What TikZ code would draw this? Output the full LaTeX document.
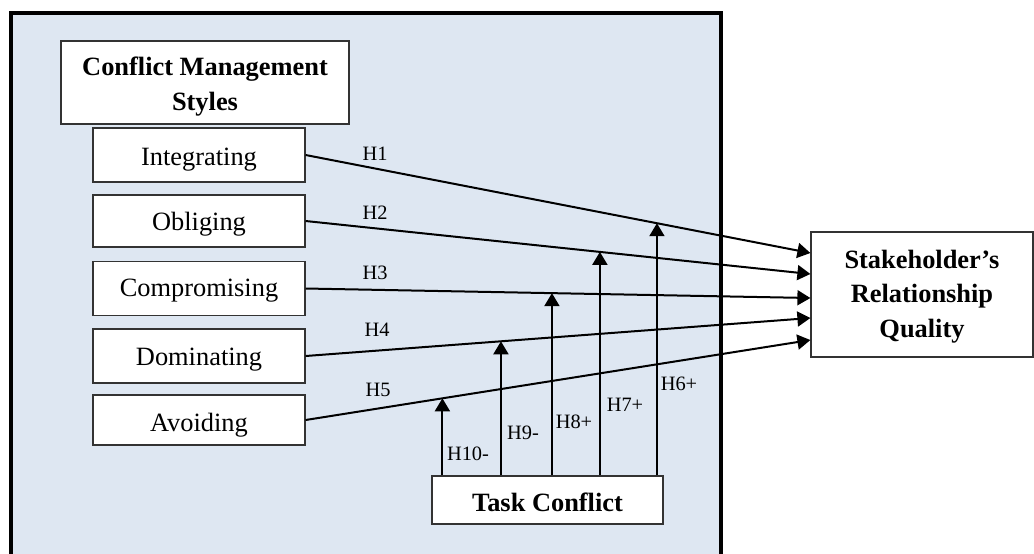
\documentclass[tikz,border=0pt]{standalone}
\usepackage{fontspec}
\setmainfont{Liberation Serif}
\usetikzlibrary{arrows.meta,calc}
\definecolor{panelblue}{HTML}{DEE7F2}
\definecolor{boxline}{HTML}{333333}
\newcommand{\stacklines}[1]{\begin{tabular}[b]{@{}c@{}}#1\end{tabular}}
\tikzset{
  stylebox/.style={draw=boxline,line width=0.6pt,fill=white,minimum width=106pt,minimum height=27pt,inner sep=0pt,text depth=0pt,font=\fontsize{13.2}{16}\selectfont},
  titlebox/.style={draw=boxline,line width=0.6pt,fill=white,inner sep=0pt,text depth=0pt,font=\fontsize{13.2}{17.2}\selectfont\bfseries},
  hyp/.style={font=\fontsize{10.2}{12}\selectfont,inner sep=0pt},
  link/.style={line width=1pt,-{Triangle[length=6.5pt,width=7.5pt]}}
}
\begin{document}
\begin{tikzpicture}[x=0.5pt,y=-0.5pt]
\clip (0,0) rectangle (1034,553);
\draw[line width=1.75pt,fill=panelblue] (11,13) rectangle (721,580);
\node[titlebox,minimum width=144pt,minimum height=41.5pt,text height=27.5pt] (cms) at (205,82.5) {\stacklines{Conflict Management\\Styles}};
\node[stylebox,text height=10pt] (int) at (199,155) {Integrating};
\node[stylebox,minimum height=26pt,text height=9pt] (obl) at (199,221) {Obliging};
\node[stylebox,text height=7.5pt] (com) at (199,288.5) {Compromising};
\node[stylebox,text height=9pt] (dom) at (199,356) {Dominating};
\node[stylebox,minimum height=25pt,text height=11.5pt] (avo) at (199,420) {Avoiding};
\node[titlebox,minimum width=115.5pt,minimum height=24pt,text height=11.7pt] (tc) at (547.5,500) {Task Conflict};
\node[titlebox,minimum width=111pt,minimum height=62.5pt,text height=42.5pt] (srq) at (922,294.5) {\stacklines{Stakeholder’s\\Relationship\\Quality}};
% main arrows
\draw[link] (int.east) -- (srq.west |- 0,253) coordinate[pos=0.696] (m1);
\draw[link] (obl.east) -- (srq.west |- 0,274) coordinate[pos=0.583] (m2);
\draw[link] (com.east) -- (srq.west |- 0,298) coordinate[pos=0.488] (m3);
\draw[link] (dom.east) -- (srq.west |- 0,318) coordinate[pos=0.387] (m4);
\draw[link] (avo.east) -- (srq.west |- 0,340) coordinate[pos=0.271] (m5);
% moderating arrows
\draw[link] (m1 |- tc.north) -- (m1);
\draw[link] (m2 |- tc.north) -- (m2);
\draw[link] (m3 |- tc.north) -- (m3);
\draw[link] (m4 |- tc.north) -- (m4);
\draw[link] (m5 |- tc.north) -- (m5);
% labels
\node[hyp] (l1) at (375,154) {H1};
\node[hyp] (l2) at (375,213) {H2};
\node[hyp] (l3) at (375,273) {H3};
\node[hyp] (l4) at (377,330) {H4};
\node[hyp] (l5) at (378,390) {H5};
\node[hyp] (l10) at (468,454) {H10-};
\node[hyp] (l9) at (523,433) {H9-};
\node[hyp] (l8) at (574,422) {H8+};
\node[hyp] (l7) at (625,405) {H7+};
\node[hyp] (l6) at (679,384) {H6+};
\end{tikzpicture}
\end{document}
